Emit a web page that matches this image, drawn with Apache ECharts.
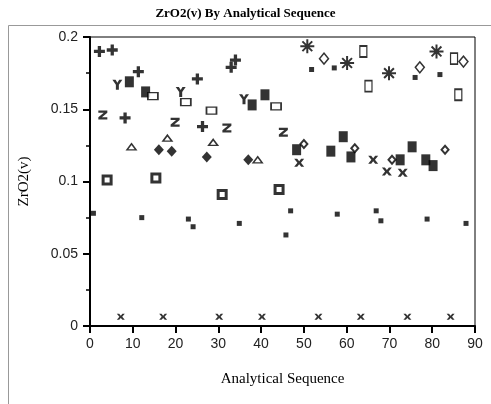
<!DOCTYPE html>
<html><head><meta charset="utf-8">
<script src="https://cdn.jsdelivr.net/npm/echarts@6/dist/echarts.min.js"></script>
<style>html,body{margin:0;padding:0;background:#fff}#c{width:491px;height:404px}</style>
</head><body><div id="c"></div>
<script>
// Data: [analytical sequence, ZrO2(v)]
var plusPts   = [[2.2,0.190],[5.2,0.191],[11.3,0.176],[8.2,0.144],[25.1,0.171],[26.3,0.138],[33.0,0.179],[34.0,0.184]];
var yPts      = [[6.4,0.167],[21.2,0.162],[36.0,0.157]];
var zPts      = [[3.0,0.146],[19.9,0.141],[32.0,0.137],[45.2,0.134]];
var filledRect= [[9.2,0.169],[13.0,0.162],[37.9,0.153],[40.9,0.160],[48.3,0.122],[56.3,0.121],[59.2,0.131],[61.0,0.117],[72.5,0.115],[75.3,0.124],[78.5,0.115],[80.2,0.111]];
var openRectH = [[14.7,0.159],[22.4,0.155],[28.4,0.149],[43.5,0.152]];
var openRectV = [[63.9,0.190],[65.1,0.166],[85.1,0.185],[86.1,0.160]];
var triPts    = [[9.7,0.124],[18.1,0.130],[28.8,0.127],[39.2,0.115]];
var diamPts   = [[16.1,0.122],[19.1,0.121],[27.3,0.117],[37.0,0.115]];
var dblSquare = [[4.0,0.101],[15.4,0.1025],[30.9,0.091],[44.2,0.0945]];
var smallSq   = [[0.8,0.078],[12.1,0.075],[23.0,0.074],[24.1,0.0687],[34.9,0.071],[46.9,0.0797],[45.8,0.063],[57.8,0.0774],[66.9,0.0797],[68.0,0.0728],[78.8,0.074],[87.9,0.071],[51.8,0.1775],[57.1,0.1786],[76.0,0.172],[81.8,0.174]];
var xPts      = [[48.9,0.113],[66.2,0.115],[69.4,0.107],[73.1,0.106]];
var xZero     = [[7.2,0.0064],[17.1,0.0064],[30.2,0.0064],[40.2,0.0064],[53.4,0.0064],[63.3,0.0064],[74.2,0.0064],[84.3,0.0064]];
var astPts    = [[50.8,0.1936],[60.1,0.182],[69.9,0.175],[81.0,0.190]];
var smDiamond = [[50.0,0.126],[61.9,0.123],[70.6,0.115],[83.0,0.122]];
var openDiam  = [[54.7,0.185],[77.1,0.179],[87.3,0.183]];
var xTicks = [0,10,20,30,40,50,60,70,80,90];
var yTicks = [0,0.05,0.1,0.15,0.2];

var PLUS = 'path://M3.5,0H6.5V3.5H10V6.5H6.5V10H3.5V6.5H0V3.5H3.5Z';
var YSYM = 'path://M0,0H3.2L5,3L6.8,0H10L6.5,5V10H3.5V5Z';
var ZSYM = 'path://M0,0H10V2.5L4,7.5H10V10H0V7.5L6,2.5H0Z';
var XSYM = 'path://M0,0H3L5,2.5L7,0H10L6.8,4L10,8H7L5,5.5L3,8H0L3.2,4Z';
var AST  = 'path://M0,5H10M5,0V10M1.5,1.5L8.5,8.5M8.5,1.5L1.5,8.5';

function ser(data, symbol, size, style){
  return {type:'scatter', data:data, symbol:symbol, symbolSize:size, itemStyle:style, silent:true, animation:false};
}
var solid = {color:'#000'};
var hollow = function(w){return {color:'#fff', borderColor:'#000', borderWidth:w};};

var chart = echarts.init(document.getElementById('c'), null, {renderer:'canvas'});
chart.setOption({
  animation:false,
  backgroundColor:'#fff',
  title:{text:'ZrO2(v) By Analytical Sequence', left:'center', top:2,
    textStyle:{fontFamily:'Liberation Serif', fontWeight:'bold', fontSize:13, color:'#000'}},
  graphic:[{type:'rect', shape:{x:8.5, y:25.5, width:500, height:400}, style:{fill:'none', stroke:'#999', lineWidth:1}, silent:true}],
  grid:{left:90, right:16, top:37, bottom:78, show:true, borderColor:'#000', borderWidth:1},
  xAxis:{type:'value', min:xTicks[0], max:xTicks[xTicks.length-1], interval:10,
    axisLine:{lineStyle:{color:'#000', width:2}},
    axisTick:{inside:false, length:7, lineStyle:{color:'#000', width:2}},
    axisLabel:{color:'#222', fontFamily:'Liberation Sans', fontSize:14, margin:11},
    splitLine:{show:false},
    name:'Analytical Sequence', nameLocation:'middle', nameGap:46,
    nameTextStyle:{fontFamily:'Liberation Serif', fontSize:15, color:'#000'}},
  yAxis:{type:'value', min:yTicks[0], max:yTicks[yTicks.length-1], interval:0.05,
    axisLine:{show:true, lineStyle:{color:'#000', width:2}},
    axisTick:{show:true, inside:false, length:7, lineStyle:{color:'#000', width:2}},
    minorTick:{show:true, splitNumber:2, length:4, lineStyle:{color:'#000', width:1.5}},
    axisLabel:{color:'#222', fontFamily:'Liberation Sans', fontSize:14, margin:12,
      formatter:function(v){return String(+v.toFixed(3));}},
    splitLine:{show:false},
    name:'ZrO2(v)', nameLocation:'middle', nameGap:58, nameRotate:90,
    nameTextStyle:{fontFamily:'Liberation Serif', fontSize:15, color:'#000'}},
  series:[
    ser(plusPts, PLUS, 11, solid),
    ser(yPts, YSYM, [10,10], solid),
    ser(zPts, ZSYM, [9,9], solid),
    ser(filledRect, 'rect', [9,11], solid),
    ser(openRectH, 'rect', [10,7], hollow(1.5)),
    ser(openRectV, 'rect', [7,11], hollow(1.5)),
    ser(triPts, 'triangle', [9,6], hollow(1.5)),
    ser(diamPts, 'diamond', [10,11], solid),
    ser(dblSquare, 'rect', 8, hollow(3)),
    ser(smallSq, 'rect', 5, solid),
    ser(xPts, XSYM, [10,8], solid),
    ser(xZero, XSYM, [8,6], solid),
    ser(astPts, AST, 14, {color:'none', borderColor:'#000', borderWidth:2}),
    ser(smDiamond, 'diamond', [7,8], hollow(2)),
    ser(openDiam, 'diamond', [9,11], hollow(1.5))
  ]
});
</script></body></html>
